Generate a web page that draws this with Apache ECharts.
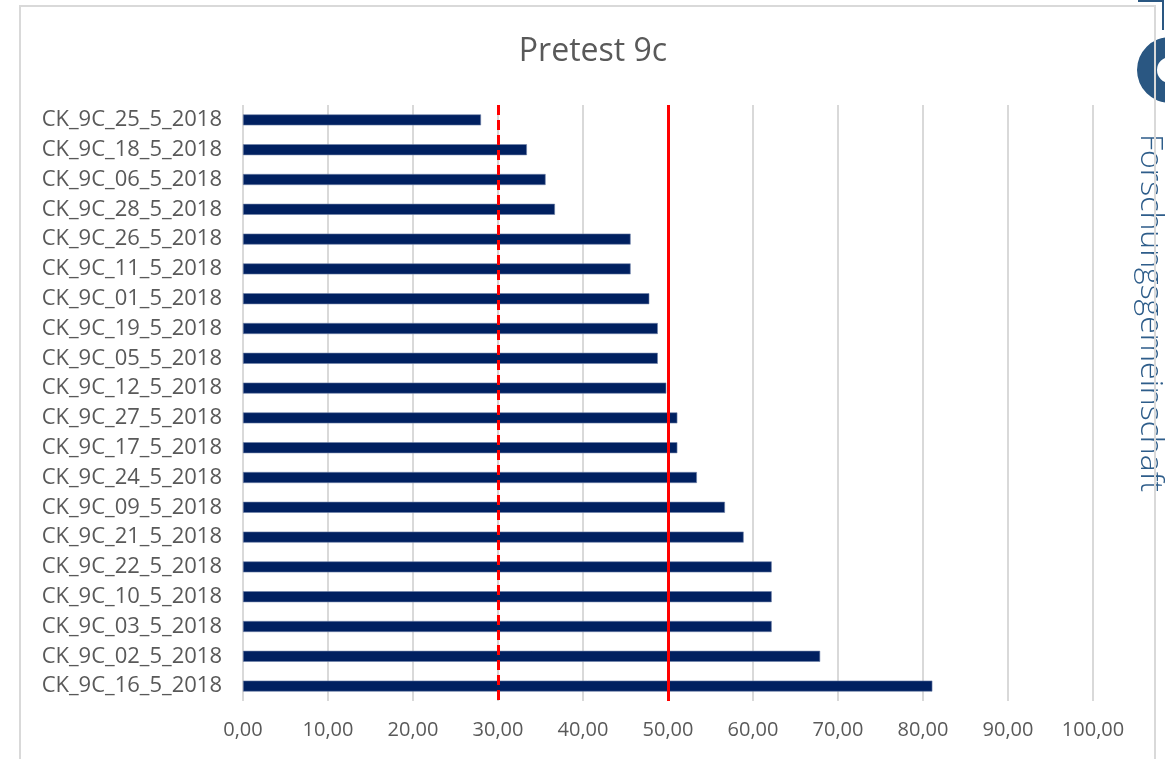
<!DOCTYPE html>
<html>
<head>
<meta charset="utf-8">
<title>Pretest 9c</title>
<script src="https://cdn.jsdelivr.net/npm/echarts@6/dist/echarts.min.js"></script>
<style>
  html, body { margin: 0; padding: 0; background: #ffffff; }
  #chart { width: 1165px; height: 759px; }
</style>
</head>
<body>
<div id="chart"></div>
<script>
// Test runs, listed top to bottom as drawn
const categories = [
  'CK_9C_25_5_2018', 'CK_9C_18_5_2018', 'CK_9C_06_5_2018', 'CK_9C_28_5_2018',
  'CK_9C_26_5_2018', 'CK_9C_11_5_2018', 'CK_9C_01_5_2018', 'CK_9C_19_5_2018',
  'CK_9C_05_5_2018', 'CK_9C_12_5_2018', 'CK_9C_27_5_2018', 'CK_9C_17_5_2018',
  'CK_9C_24_5_2018', 'CK_9C_09_5_2018', 'CK_9C_21_5_2018', 'CK_9C_22_5_2018',
  'CK_9C_10_5_2018', 'CK_9C_03_5_2018', 'CK_9C_02_5_2018', 'CK_9C_16_5_2018'
];

// Score per run
const scores = [
  28.0, 33.4, 35.6, 36.7,
  45.6, 45.6, 47.8, 48.8,
  48.8, 49.8, 51.1, 51.1,
  53.4, 56.7, 58.9, 62.2,
  62.2, 62.2, 67.9, 81.1
];

// Reference thresholds
const lowerThreshold = 30;
const mainThreshold = 50;

// Value axis range
const axisMin = 0;
const axisMax = 100;
const axisStep = 10;

const chart = echarts.init(document.getElementById('chart'), null, { renderer: 'canvas' });

const FONT = '"Open Sans", "DejaVu Sans", sans-serif';
const GREY_TEXT = '#595959';
const GRID_GREY = '#d9d9d9';
const LOGO_BLUE = '#2a5782';

chart.setOption({
  backgroundColor: '#ffffff',
  animation: false,
  title: {
    text: 'Pretest 9c',
    left: 588,
    top: 31,
    textAlign: 'center',
    textStyle: { fontFamily: FONT, fontSize: 32, fontWeight: 'normal', color: GREY_TEXT }
  },
  grid: { left: 243, right: 72, top: 105, bottom: 58, containLabel: false },
  xAxis: {
    type: 'value',
    min: axisMin,
    max: axisMax,
    interval: axisStep,
    axisLine: { show: false },
    axisTick: { show: false },
    splitLine: { show: true, lineStyle: { color: GRID_GREY, width: 2 } },
    axisLabel: {
      margin: 19,
      color: GREY_TEXT,
      fontFamily: FONT,
      fontSize: 20,
      formatter: v => v.toFixed(2).replace('.', ',')
    }
  },
  yAxis: {
    type: 'category',
    data: categories,
    inverse: true,
    axisLine: { show: false },
    axisTick: { show: false },
    splitLine: { show: false },
    axisLabel: { margin: 21, color: GREY_TEXT, fontFamily: FONT, fontSize: 22 }
  },
  series: [{
    type: 'bar',
    data: scores,
    barWidth: 11,
    itemStyle: { color: '#002060', borderColor: '#6f82a8', borderWidth: 0.6 },
    markLine: {
      silent: true,
      symbol: 'none',
      label: { show: false },
      emphasis: { disabled: true },
      data: [
        { xAxis: mainThreshold, lineStyle: { color: '#ff0000', width: 3, type: 'solid' } },
        { xAxis: lowerThreshold, lineStyle: { color: '#ff0000', width: 3, type: [10, 5] } }
      ]
    }
  }],
  graphic: [
    // partial logo emblem at the top right
    {
      type: 'ring',
      z: 1,
      shape: { cx: 1170, cy: 70, r: 33, r0: 13 },
      style: { fill: LOGO_BLUE }
    },
    {
      type: 'polyline',
      z: 1,
      shape: { points: [[1138, 1], [1163, 1], [1163, 30]] },
      style: { stroke: LOGO_BLUE, lineWidth: 2, fill: 'none' }
    },
    {
      type: 'text',
      z: 1,
      x: 1150,
      y: 313,
      rotation: -Math.PI / 2,
      style: {
        text: 'Forschungsgemeinschaft',
        fontFamily: FONT,
        fontSize: 32,
        fontWeight: 300,
        fill: '#2e5d8a',
        align: 'center',
        verticalAlign: 'middle'
      }
    },
    // chart frame
    {
      type: 'rect',
      z: 10,
      shape: { x: 20, y: 6, width: 1135, height: 800 },
      style: { fill: 'none', stroke: GRID_GREY, lineWidth: 2 }
    }
  ]
});
</script>
</body>
</html>
